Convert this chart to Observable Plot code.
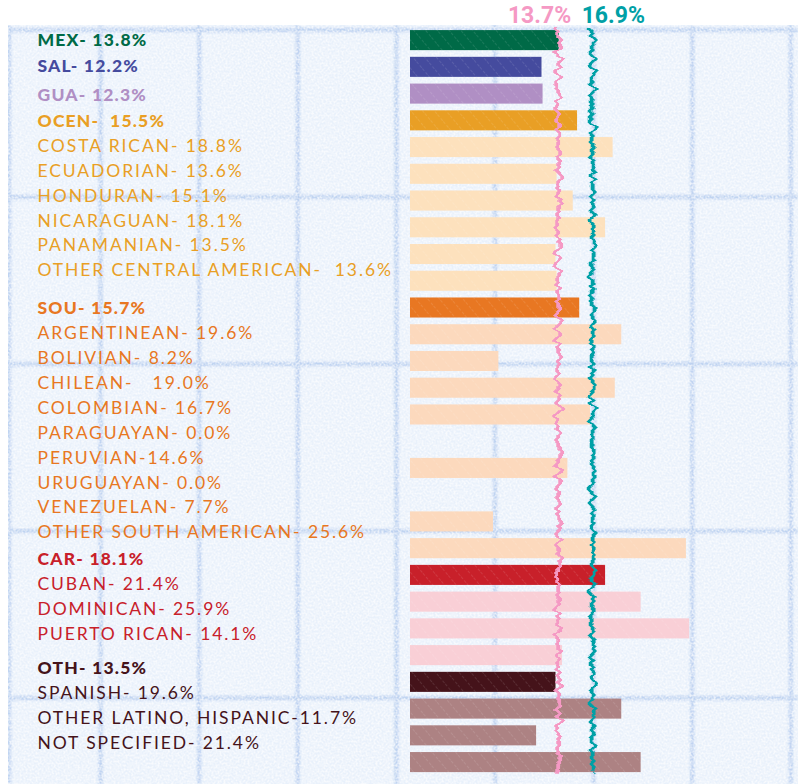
<!DOCTYPE html>
<html>
<head>
<meta charset="utf-8">
<script src="https://cdn.jsdelivr.net/npm/d3@7"></script>
<script src="https://cdn.jsdelivr.net/npm/@observablehq/plot@0.6"></script>
<style>
  html, body { margin: 0; padding: 0; background: #ffffff; }
  #wrap { position: relative; width: 798px; height: 784px; overflow: hidden; }
  #paper { position: absolute; left: 8px; top: 25px; width: 790px; height: 759px; background-color: #e9f1fb; }
  #paper svg { position: absolute; left: 0; top: 0; }
  #chart { position: absolute; left: 0; top: 0; }
</style>
</head>
<body>
<div id="wrap">
  <div id="paper"></div>
  <div id="chart"></div>
</div>
<script>
// ---------- data ----------
const categories = [
  "MEX", "SAL", "GUA",
  "OCEN", "COSTA RICAN", "ECUADORIAN", "HONDURAN", "NICARAGUAN", "PANAMANIAN", "OTHER CENTRAL AMERICAN",
  "SOU", "ARGENTINEAN", "BOLIVIAN", "CHILEAN", "COLOMBIAN", "PARAGUAYAN", "PERUVIAN", "URUGUAYAN", "VENEZUELAN", "OTHER SOUTH AMERICAN",
  "CAR", "CUBAN", "DOMINICAN", "PUERTO RICAN",
  "OTH", "SPANISH", "OTHER LATINO, HISPANIC", "NOT SPECIFIED"
];
const groups = [
  "MEX", "SAL", "GUA",
  "OCEN", "OCEN", "OCEN", "OCEN", "OCEN", "OCEN", "OCEN",
  "SOU", "SOU", "SOU", "SOU", "SOU", "SOU", "SOU", "SOU", "SOU", "SOU",
  "CAR", "CAR", "CAR", "CAR",
  "OTH", "OTH", "OTH", "OTH"
];
const values = [
  13.8, 12.2, 12.3,
  15.5, 18.8, 13.6, 15.1, 18.1, 13.5, 13.6,
  15.7, 19.6, 8.2, 19.0, 16.7, 0.0, 14.6, 0.0, 7.7, 25.6,
  18.1, 21.4, 25.9, 14.1,
  13.5, 19.6, 11.7, 21.4
];
const labels = [
  "MEX- 13.8%", "SAL- 12.2%", "GUA- 12.3%",
  "OCEN-  15.5%", "COSTA RICAN- 18.8%", "ECUADORIAN- 13.6%", "HONDURAN- 15.1%", "NICARAGUAN- 18.1%", "PANAMANIAN- 13.5%", "OTHER CENTRAL AMERICAN-  13.6%",
  "SOU- 15.7%", "ARGENTINEAN- 19.6%", "BOLIVIAN- 8.2%", "CHILEAN-   19.0%", "COLOMBIAN- 16.7%", "PARAGUAYAN- 0.0%", "PERUVIAN-14.6%", "URUGUAYAN- 0.0%", "VENEZUELAN- 7.7%", "OTHER SOUTH AMERICAN- 25.6%",
  "CAR- 18.1%", "CUBAN- 21.4%", "DOMINICAN- 25.9%", "PUERTO RICAN- 14.1%",
  "OTH- 13.5%", "SPANISH- 19.6%", "OTHER LATINO, HISPANIC-11.7%", "NOT SPECIFIED- 21.4%"
];
const groupNames   = ["MEX", "SAL", "GUA", "OCEN", "SOU", "CAR", "OTH"];
const headerColors = ["#006a47", "#454b9e", "#b08fc4", "#e99f25", "#e87722", "#c8202a", "#45131a"];
const subBarColors = [null, null, null, "#fde1bd", "#fcd9bd", "#f9cfd6", "#ad8283"];

const refValues = [13.7, 16.9];
const refLabels = ["13.7%", "16.9%"];
const refColors = ["#f599c4", "#00a0a6"];

// ---------- graph-paper background (decoration only) ----------
(function paper() {
  const pw = 790, ph = 759;
  const s = d3.select("#paper").append("svg").attr("width", pw).attr("height", ph);
  const defs = s.append("defs");
  const blur = defs.append("filter").attr("id", "soft").attr("x", "-5%").attr("y", "-5%").attr("width", "110%").attr("height", "110%");
  blur.append("feGaussianBlur").attr("stdDeviation", 1.3);
  const nz = defs.append("filter").attr("id", "paperNoise").attr("x", 0).attr("y", 0).attr("width", "100%").attr("height", "100%");
  nz.append("feTurbulence").attr("type", "fractalNoise").attr("baseFrequency", 0.5).attr("numOctaves", 3).attr("seed", 7);
  nz.append("feColorMatrix").attr("type", "matrix").attr("values", "0 0 0 0 1  0 0 0 0 1  0 0 0 0 1  2.4 0 0 0 -0.8");
  const g = s.append("g").attr("filter", "url(#soft)").attr("stroke", "#b3caee").attr("stroke-width", 4.5).attr("opacity", 0.8);
  d3.range(-6, pw + 10, 98.6).forEach(x => g.append("line").attr("x1", x + 98.6).attr("x2", x + 98.6).attr("y1", 0).attr("y2", ph));
  g.append("line").attr("x1", 1).attr("x2", 1).attr("y1", 0).attr("y2", ph);
  d3.range(5, ph + 10, 167).forEach(y => g.append("line").attr("x1", 0).attr("x2", pw).attr("y1", y).attr("y2", y));
  s.append("rect").attr("width", pw).attr("height", ph).attr("filter", "url(#paperNoise)").attr("opacity", 0.7);
})();

// ---------- layout ----------
const W = 798, H = 784;
const yDomain = [-1.5, 27.82];               // row units
const rowPx = H / (yDomain[1] - yDomain[0]);  // px per bar row
const labelStepPx = 24.9;                    // text line step
const headerGapPx = {SAL: 1, GUA: 4, OCEN: 1, SOU: 13, CAR: 2, OTH: 9};

let gapAcc = 0;
const rows = categories.map((c, i) => {
  const g = groups[i];
  const gi = groupNames.indexOf(g);
  const header = c === g;
  if (header && headerGapPx[g]) gapAcc += headerGapPx[g];
  return {
    category: c,
    value: values[i],
    label: labels[i],
    group: g,
    header,
    row: i,
    labelRow: (i * labelStepPx + gapAcc) / rowPx,
    barColor: header ? headerColors[gi] : subBarColors[gi],
    labelColor: headerColors[gi]
  };
});
const refs = refValues.map((v, i) => ({value: v, label: refLabels[i], color: refColors[i]}));
const firstRow = 0, lastRow = rows.length - 1;
const barRows = rows.filter(d => d.value > 0);

const labelFont = "Lato, 'Open Sans', sans-serif";
const barY1 = d => d.row - 0.375, barY2 = d => d.row + 0.375;

const chart = Plot.plot({
  width: W,
  height: H,
  marginLeft: 410,
  marginRight: 0,
  marginTop: 0,
  marginBottom: 0,
  x: {domain: [0, 36], axis: null},
  y: {domain: yDomain, reverse: true, axis: null},
  color: {type: "identity"},
  style: {background: "transparent", overflow: "visible", whiteSpace: "pre"},
  marks: [
    Plot.rect(barRows, {x1: 0, x2: "value", y1: barY1, y2: barY2, fill: "barColor"}),
    Plot.rect(barRows, {x1: 0, x2: "value", y1: barY1, y2: barY2, fill: "url(#hatch)", ariaLabel: "hatch"}),
    Plot.ruleX(refs, {
      x: "value",
      y1: firstRow - 0.45, y2: lastRow + 0.47,
      stroke: "color", strokeWidth: 3.8
    }),
    Plot.text(refs.slice(0, 1), {
      x: "value", text: "label", fill: "color",
      frameAnchor: "top", lineAnchor: "middle", dy: 15, dx: 13, textAnchor: "end",
      fontSize: 23, fontWeight: 700, fontFamily: "Roboto, sans-serif"
    }),
    Plot.text(refs.slice(1), {
      x: "value", text: "label", fill: "color",
      frameAnchor: "top", lineAnchor: "middle", dy: 15, dx: -11, textAnchor: "start",
      fontSize: 23, fontWeight: 700, fontFamily: "Roboto, sans-serif"
    }),
    Plot.text(rows.filter(d => d.header), {
      y: "labelRow", text: "label", fill: "labelColor",
      frameAnchor: "left", dx: -373, textAnchor: "start",
      fontSize: 17.5, fontWeight: 900, fontFamily: labelFont
    }),
    Plot.text(rows.filter(d => !d.header), {
      y: "labelRow", text: "label", fill: "labelColor",
      frameAnchor: "left", dx: -373, textAnchor: "start",
      fontSize: 17.5, fontWeight: 400, fontFamily: labelFont
    })
  ]
});

const svg = d3.select(chart);
const defs = svg.insert("defs", ":first-child");

// faint diagonal crayon hatch on the bars
const pat = defs.append("pattern").attr("id", "hatch")
  .attr("patternUnits", "userSpaceOnUse").attr("width", 9).attr("height", 9)
  .attr("patternTransform", "rotate(-40)");
pat.append("line").attr("x1", 0).attr("y1", 0).attr("x2", 0).attr("y2", 9)
  .attr("stroke", "#ffffff").attr("stroke-width", 1).attr("stroke-opacity", 0.22)
  .attr("stroke-dasharray", "3 2");

// hand-drawn wobble on the average lines
const f = defs.append("filter").attr("id", "wobble")
  .attr("filterUnits", "userSpaceOnUse")
  .attr("x", 0).attr("y", 0).attr("width", W).attr("height", H);
f.append("feTurbulence").attr("type", "fractalNoise")
  .attr("baseFrequency", "0.02 0.16").attr("numOctaves", 2).attr("seed", 11).attr("result", "t");
f.append("feDisplacementMap").attr("in", "SourceGraphic").attr("in2", "t")
  .attr("scale", 15).attr("xChannelSelector", "R").attr("yChannelSelector", "B");
svg.selectAll("g[aria-label='rule']").attr("filter", "url(#wobble)");

// letter spacing to mimic the wide geometric face
const textGroups = svg.selectAll("g[aria-label='text']").nodes();
d3.select(textGroups[2]).style("letter-spacing", "1.2px");
d3.select(textGroups[3]).style("letter-spacing", "1.9px");

document.getElementById("chart").appendChild(chart);
</script>
</body>
</html>
